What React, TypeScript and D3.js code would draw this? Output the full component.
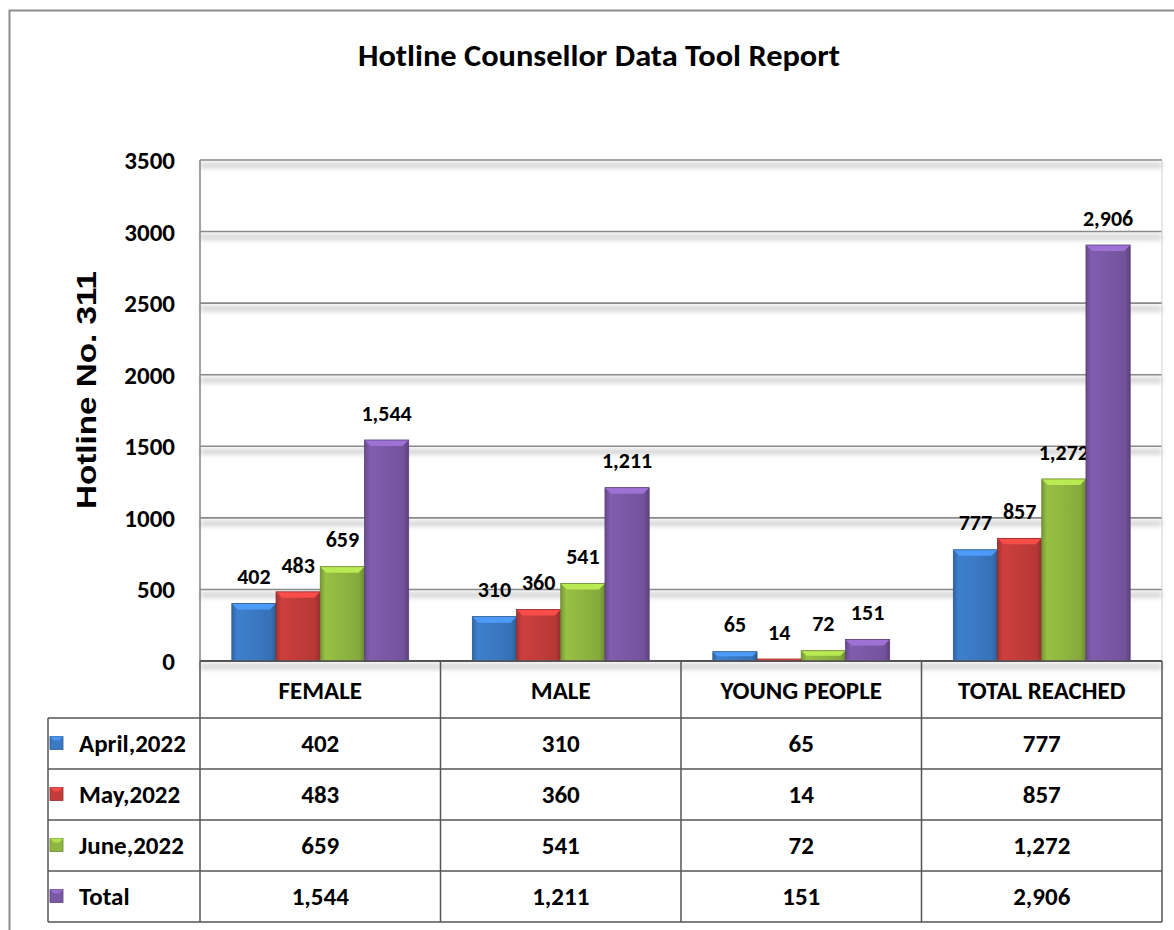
import * as d3 from 'd3';

const categories = ['FEMALE', 'MALE', 'YOUNG PEOPLE', 'TOTAL REACHED'];
const seriesNames = ['April,2022', 'May,2022', 'June,2022', 'Total'];
const april = [402, 310, 65, 777];
const may = [483, 360, 14, 857];
const june = [659, 541, 72, 1272];
const total = [1544, 1211, 151, 2906];
const yTicks = [0, 500, 1000, 1500, 2000, 2500, 3000, 3500];

const seriesValues = [april, may, june, total];
const colors = ['#3b79c3', '#c23c3a', '#8fb640', '#7b58a6'];

const W = 1174;
const H = 930;
const plot = { left: 200, right: 1162, top: 160, bottom: 661 };
const rowH = [57, 51, 51, 51, 51];
const tableLeft = 48;
const font = "Carlito, Lato, 'Open Sans', sans-serif";
const fmt = d3.format(',');

export default function App() {
  const x = d3.scaleBand<string>().domain(categories).range([plot.left, plot.right]);
  const inner = d3
    .scaleBand<number>()
    .domain(d3.range(seriesNames.length))
    .range([0, x.bandwidth()])
    .paddingInner(0)
    .paddingOuter(0.72);
  const y = d3.scaleLinear().domain([0, 3500]).range([plot.bottom, plot.top]);

  const rowTops = rowH.reduce<number[]>((acc, h, i) => {
    acc.push(i === 0 ? plot.bottom : acc[i - 1] + rowH[i - 1]);
    return acc;
  }, []);
  const tableBottom = rowTops[rowTops.length - 1] + rowH[rowH.length - 1];

  return (
    <div style={{ position: 'absolute', left: 0, top: 0 }}>
      <svg width={W} height={H} style={{ display: 'block', background: '#fff' }}>
        <defs>
          <filter id="blur" x="-5%" y="-200%" width="110%" height="500%">
            <feGaussianBlur stdDeviation="2.5" />
          </filter>
          {colors.map((c, i) => (
            <linearGradient key={i} id={`g${i}`} x1="0" x2="1" y1="0" y2="0">
              <stop offset="0" stopColor={d3.color(c)!.darker(0.5).toString()} />
              <stop offset="0.12" stopColor={d3.color(c)!.brighter(0.15).toString()} />
              <stop offset="0.5" stopColor={c} />
              <stop offset="0.88" stopColor={d3.color(c)!.darker(0.2).toString()} />
              <stop offset="1" stopColor={d3.color(c)!.darker(0.8).toString()} />
            </linearGradient>
          ))}
        </defs>

        {/* outer frame */}
        <rect x={9.5} y={10.5} width={W} height={H - 4} fill="none" stroke="#8c8c8c" strokeWidth={2} />

        <text
          x={599}
          y={66}
          textAnchor="middle"
          fontFamily={font}
          fontWeight="bold"
          fontSize={31}
          textLength={482}
          lengthAdjust="spacingAndGlyphs"
        >
          Hotline Counsellor Data Tool Report
        </text>

        {/* gridlines with soft shadow */}
        {yTicks.map((t) => (
          <g key={t}>
            <rect x={plot.left} y={y(t) + 3} width={plot.right - plot.left} height={5} fill="#cfcfcf" filter="url(#blur)" />
            <line
              x1={plot.left}
              x2={plot.right}
              y1={y(t)}
              y2={y(t)}
              stroke={t === 0 ? '#555' : '#8a8a8a'}
              strokeWidth={t === 0 ? 2 : 1.6}
            />
            <text
              x={175}
              y={y(t)}
              dy="0.36em"
              textAnchor="end"
              fontFamily={font}
              fontWeight="bold"
              fontSize={25}
            >
              {t}
            </text>
          </g>
        ))}
        <line x1={plot.left} x2={plot.left} y1={plot.top} y2={plot.bottom} stroke="#8a8a8a" strokeWidth={1.6} />
        <line x1={plot.right} x2={plot.right} y1={plot.top} y2={plot.bottom} stroke="#d0d0d0" strokeWidth={1} />

        <text
          transform={`translate(96,390) rotate(-90)`}
          textAnchor="middle"
          fontFamily="'Liberation Sans', Arial, sans-serif"
          fontWeight="bold"
          fontSize={27}
          textLength={238}
          lengthAdjust="spacingAndGlyphs"
        >
          Hotline No. 311
        </text>

        {/* bars */}
        {categories.map((cat, ci) => (
          <g key={cat}>
            {seriesValues.map((vals, si) => {
              const bx = x(cat)! + inner(si)!;
              const bw = inner.bandwidth();
              const top = y(vals[ci]);
              const h = plot.bottom - top;
              const bev = Math.min(6, h / 2);
              const c = colors[si];
              return (
                <g key={si}>
                  <rect x={bx} y={top} width={bw} height={h} fill={`url(#g${si})`} />
                  <polygon
                    points={`${bx},${top} ${bx + bw},${top} ${bx + bw - bev},${top + bev} ${bx + bev},${top + bev}`}
                    fill={d3.color(c)!.brighter(0.7).toString()}
                  />
                  <rect x={bx} y={top} width={bw} height={h} fill="none" stroke={d3.color(c)!.darker(0.9).toString()} strokeWidth={0.8} />
                  <text
                    x={bx + bw / 2}
                    y={top - 27}
                    dy="0.35em"
                    textAnchor="middle"
                    fontFamily={font}
                    fontWeight="bold"
                    fontSize={22}
                  >
                    {fmt(vals[ci])}
                  </text>
                </g>
              );
            })}
          </g>
        ))}

        {/* data table */}
        <g fontFamily={font} fontWeight="bold" fontSize={25} stroke="none">
          {rowTops.map((rt, ri) => (
            <line
              key={`h${ri}`}
              x1={ri === 0 ? plot.left : tableLeft}
              x2={plot.right}
              y1={rt}
              y2={rt}
              stroke="#555"
              strokeWidth={1.5}
            />
          ))}
          <line x1={tableLeft} x2={plot.right} y1={tableBottom} y2={tableBottom} stroke="#555" strokeWidth={1.5} />
          <line x1={tableLeft} x2={tableLeft} y1={rowTops[1]} y2={tableBottom} stroke="#555" strokeWidth={1.5} />
          {categories.map((cat) => (
            <line key={cat} x1={x(cat)!} x2={x(cat)!} y1={plot.bottom} y2={tableBottom} stroke="#555" strokeWidth={1.5} />
          ))}
          <line x1={plot.right} x2={plot.right} y1={plot.bottom} y2={tableBottom} stroke="#555" strokeWidth={1.5} />

          {categories.map((cat) => (
            <text key={cat} x={x(cat)! + x.bandwidth() / 2} y={rowTops[0] + rowH[0] / 2 + 1} dy="0.35em" textAnchor="middle">
              {cat}
            </text>
          ))}

          {seriesNames.map((name, si) => {
            const cy = rowTops[si + 1] + rowH[si + 1] / 2;
            const c = colors[si];
            return (
              <g key={name}>
                <rect x={50} y={cy - 7} width={13} height={13} fill={c} stroke={d3.color(c)!.darker(0.8).toString()} strokeWidth={0.8} />
                <polygon
                  points={`50,${cy - 7} 63,${cy - 7} 59,${cy - 3} 54,${cy - 3}`}
                  fill={d3.color(c)!.brighter(0.6).toString()}
                />
                <text x={79} y={cy} dy="0.35em">
                  {name}
                </text>
                {categories.map((cat, ci) => (
                  <text key={cat} x={x(cat)! + x.bandwidth() / 2} y={cy} dy="0.35em" textAnchor="middle">
                    {fmt(seriesValues[si][ci])}
                  </text>
                ))}
              </g>
            );
          })}
        </g>
      </svg>
    </div>
  );
}
